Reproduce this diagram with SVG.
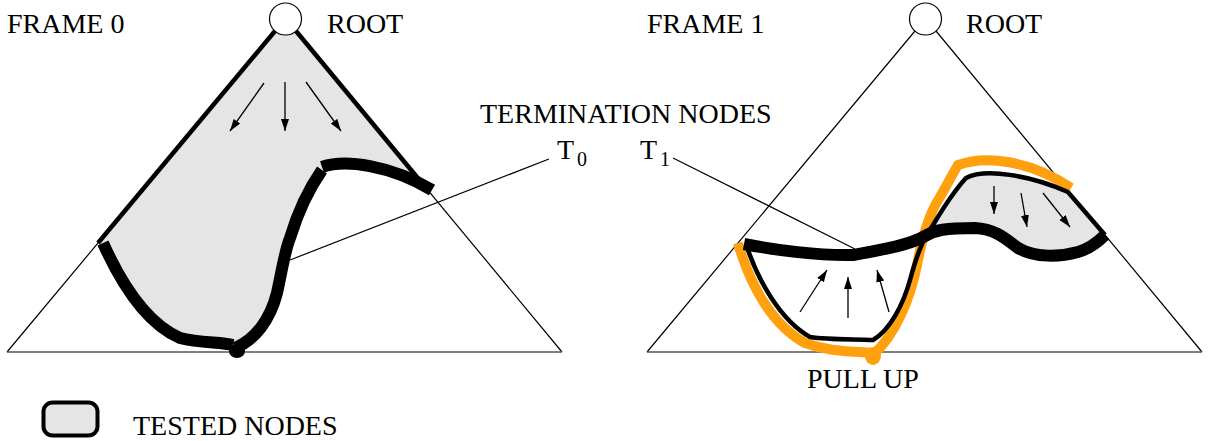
<svg xmlns="http://www.w3.org/2000/svg" width="1208" height="441" viewBox="0 0 1208 441">
<style>
text{font-family:"Liberation Serif","Times New Roman",serif;font-size:28px;fill:#000}
.sub{font-size:20px}
.thin{fill:none;stroke:#000;stroke-width:1.2}
.base{fill:none;stroke:#555;stroke-width:1.6}
.edge{fill:none;stroke:#000;stroke-width:4.5}
.thick{fill:none;stroke:#000;stroke-width:12}
.orange{fill:none;stroke:#ffa00f;stroke-width:10}
.shade{fill:#e5e5e5;stroke:none}
.arr{fill:none;stroke:#000;stroke-width:1.3;marker-end:url(#ah)}
.root{fill:#fff;stroke:#000;stroke-width:1.2}
</style>
<defs>
<marker id="ah" markerUnits="userSpaceOnUse" markerWidth="14" markerHeight="10" refX="12" refY="4" orient="auto">
<path d="M0,0 L12,4 L0,8 Z" fill="#000"/>
</marker>
</defs>
<rect width="1208" height="441" fill="#fff"/>

<g id="frame0">
<path class="shade" d="M275,31 L98,243 C125,290 150,325 180,338 C200,343 220,342 237,346 C255,340 270,320 277,293 C282,270 285,250 290,238 C297,215 308,190 322,170 C345,160 390,165 428,188 L296,31 Z"/>
<line class="thin" x1="275" y1="31" x2="7" y2="352"/>
<line class="thin" x1="296" y1="31" x2="562" y2="352"/>
<line class="base" x1="7" y1="352" x2="562" y2="352"/>
<line class="edge" x1="275" y1="31" x2="98" y2="243"/>
<line class="edge" x1="296" y1="31" x2="426" y2="188"/>
<path class="thick" d="M103,243 C125,292 150,325 180,338 C200,343 220,342 233,345"/>
<path class="thick" d="M235,348 C255,340 270,320 277,293 C282,270 285,250 290,238 C297,215 308,190 322,170"/>
<path class="thick" d="M322,167 C345,159 390,165 432,190"/>
<ellipse cx="237" cy="351" rx="8" ry="7" fill="#000"/>
<circle class="root" cx="285.5" cy="19" r="16"/>
<line class="arr" x1="264" y1="83" x2="230" y2="131"/>
<line class="arr" x1="285" y1="82" x2="285" y2="131"/>
<line class="arr" x1="306" y1="82" x2="341" y2="131"/>
<text x="7" y="33">FRAME 0</text>
<text x="327" y="33">ROOT</text>
</g>

<g id="frame1">
<line class="thin" x1="915" y1="31" x2="647" y2="352"/>
<line class="thin" x1="936" y1="31" x2="1202" y2="352"/>
<line class="base" x1="647" y1="352" x2="1202" y2="352"/>
<path class="shade" d="M930,232 C940,215 952,195 966,178 C985,168 1030,175 1068,192 L1105,235 C1090,248 1060,257 1040,254 C1018,248 1005,235 975,228 C955,227 940,228 930,232 Z"/>
<path class="orange" d="M738,243 C750,285 772,325 805,343 C830,352 850,351 873,353"/>
<path class="orange" d="M873,355 C895,335 910,300 917,265 C922,240 928,215 940,197 C948,183 952,175 958,165 C985,155 1030,160 1071,188"/>
<ellipse cx="873" cy="356" rx="8" ry="9" fill="#ffa00f"/>
<path class="edge" d="M747,247 C758,280 780,320 810,337 C830,340 855,339 873,340 C890,330 903,305 910,280 C916,258 922,240 933,225 C945,205 955,190 966,178 C985,168 1030,175 1068,192 L1105,235"/>
<path class="thick" d="M744,244 C775,250 820,256 853,255 C880,250 910,245 925,236 C935,230 945,228 975,228 C995,229 1005,238 1018,248 C1035,258 1060,257 1078,252 C1092,248 1100,240 1105,235"/>
<circle class="root" cx="925.5" cy="19" r="16"/>
<line class="arr" x1="800" y1="312" x2="827" y2="270"/>
<line class="arr" x1="848" y1="318" x2="848" y2="277"/>
<line class="arr" x1="889" y1="312" x2="877" y2="270"/>
<line class="arr" x1="994" y1="186" x2="994" y2="214"/>
<line class="arr" x1="1021" y1="193" x2="1027" y2="227"/>
<line class="arr" x1="1043" y1="193" x2="1070" y2="227"/>
<text x="647" y="33">FRAME 1</text>
<text x="966" y="33">ROOT</text>
<text x="807" y="388">PULL UP</text>
</g>

<g id="termination">
<text x="480" y="123">TERMINATION NODES</text>
<text x="557" y="159">T</text>
<text class="sub" x="577" y="166">0</text>
<text x="640" y="159">T</text>
<text class="sub" x="660" y="166">1</text>
</g>

<g id="legend">
<rect x="43.5" y="402.5" width="54" height="33" rx="9" fill="#e5e5e5" stroke="#000" stroke-width="4"/>
<text x="133" y="435">TESTED NODES</text>
</g>

<g id="connectors">
<line class="thin" x1="290" y1="260" x2="549" y2="159"/>
<line class="thin" x1="673" y1="158" x2="855" y2="249"/>
</g>
</svg>
